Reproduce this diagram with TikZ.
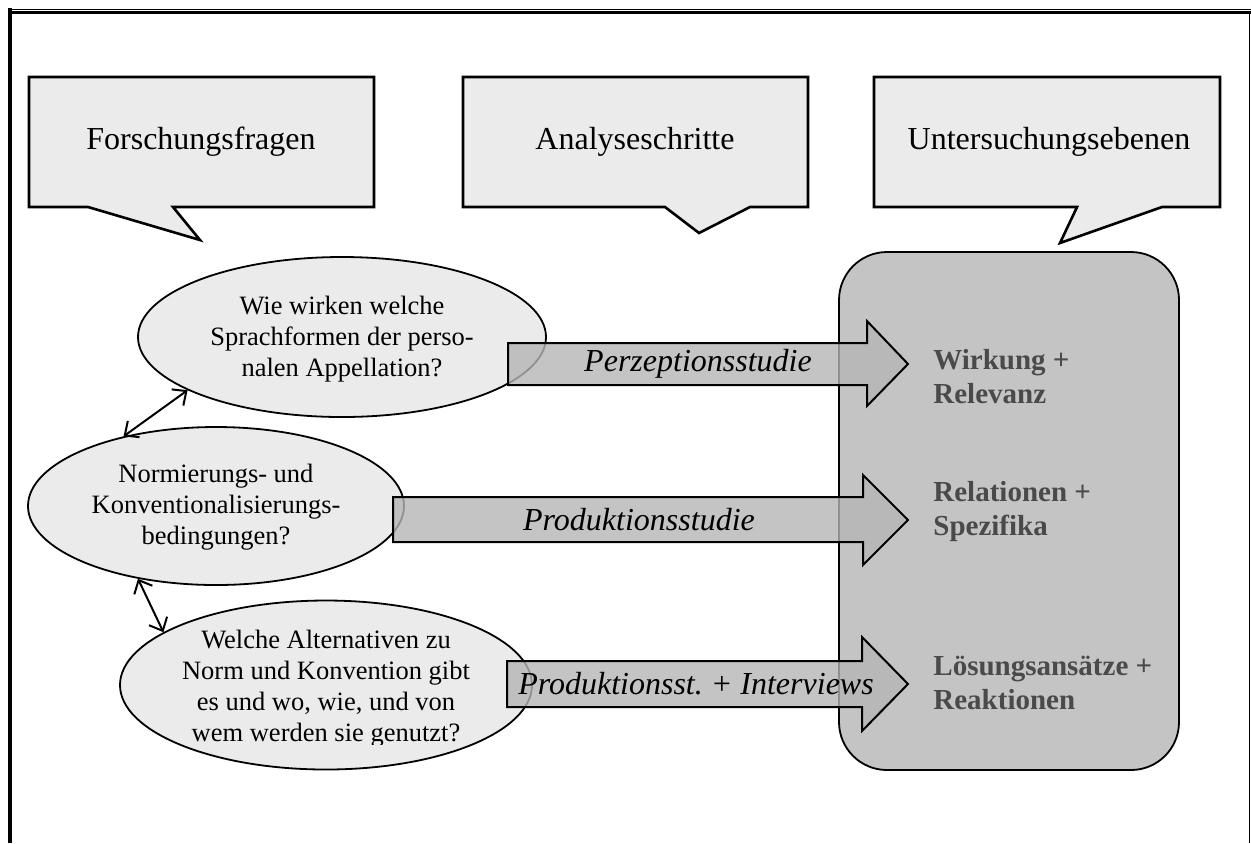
\documentclass[tikz,border=0pt]{standalone}
\usepackage{fontspec}
\setmainfont{Liberation Serif}
\usetikzlibrary{shapes.geometric,arrows.meta}
\definecolor{calloutfill}{HTML}{EBEBEB}
\definecolor{boxfill}{HTML}{C4C4C4}
\definecolor{arrowfill}{HTML}{B5B5B5}
\definecolor{labelgray}{HTML}{4A4A4A}
\frenchspacing
\tikzset{
  callout/.style={draw=black,line width=1.3pt,fill=calloutfill,line join=miter},
  callouttext/.style={font=\fontsize{16}{19}\selectfont,inner sep=0pt},
  question/.style={ellipse,draw=black,line width=0.9pt,fill=calloutfill,inner sep=0pt},
  qtext/.style={align=center,font=\fontsize{13.25}{15.5}\selectfont,inner sep=0pt},
  blockarrow/.style={draw=black,line width=1pt,fill=arrowfill,fill opacity=0.8,line join=miter},
  arrowtext/.style={font=\fontsize{16}{19}\selectfont\itshape,inner sep=0pt},
  levelbox/.style={draw=black,line width=0.9pt,fill=boxfill,rounded corners=24pt,minimum width=170pt,minimum height=259pt,inner sep=0pt},
  leveltext/.style={align=left,anchor=west,text=labelgray,font=\fontsize{14.5}{17}\selectfont\bfseries,inner sep=0pt},
  link/.style={line width=1pt,{Straight Barb[length=5.5pt,width=10pt]}-{Straight Barb[length=5.5pt,width=10pt]}}
}
\begin{document}
\begin{tikzpicture}[x=0.5pt,y=-0.5pt]
\useasboundingbox (0,0) rectangle (1251,843);
% frame
\draw[line width=0.5pt] (8,9.5) -- (1251,9.5);
\draw[line width=1.3pt] (8,12.5) -- (1251,12.5);
\draw[line width=2pt] (10,8) -- (10,843);
\draw[line width=0.5pt] (1249.5,12) -- (1249.5,843);

% big box
\node[levelbox] (levels) at (1009,511) {};

% callouts
\draw[callout] (29,77) -- (374,77) -- (374,207) -- (173,207) -- (200,240) -- (88,207) -- (29,207) -- cycle;
\node[callouttext] (c1) at (201,142) {Forschungsfragen};
\draw[callout] (463,77) -- (808,77) -- (808,207) -- (750,207) -- (699,233) -- (665,207) -- (463,207) -- cycle;
\node[callouttext] (c2) at (635,142) {Analyseschritte};
\draw[callout] (874,77) -- (1220,77) -- (1220,207) -- (1162,207) -- (1060,243) -- (1077,207) -- (874,207) -- cycle;
\node[callouttext] (c3) at (1049,142) {Untersuchungsebenen};

% questions
\node[question,minimum width=204pt,minimum height=80pt] (e1) at (342,337) {};
\node[qtext] (e1text) at (342,339) {Wie wirken welche\\Sprachformen der perso-\\nalen Appellation?};
\node[question,minimum width=188pt,minimum height=79pt] (e2) at (216,506) {};
\node[qtext] (e2text) at (216,507) {Normierungs- und\\Konventionalisierungs-\\bedingungen?};
\node[question,minimum width=206pt,minimum height=84.5pt] (e3) at (326,685) {};
\begin{scope}
\clip (100,600) rectangle (560,744);
\node[qtext] (e3text) at (326,689) {Welche Alternativen zu\\Norm und Konvention gibt\\es und wo, wie, und von\\wem werden sie genutzt?};
\end{scope}

% links between questions
\draw[link] (e1.199) -- (e2.143);
\draw[link] (e2.223) -- (e3.162);

% block arrows
\draw[blockarrow] (508,343) -- (867,343) -- (867,321) -- (908,364) -- (867,406) -- (867,385) -- (508,385) -- cycle;
\draw[blockarrow] (393,497) -- (863,497) -- (863,475) -- (908,520) -- (863,565) -- (863,542) -- (393,542) -- cycle;
\draw[blockarrow] (507,661) -- (862,661) -- (862,637) -- (908,684) -- (862,731) -- (862,707) -- (507,707) -- cycle;
\node[arrowtext] (a1) at (698,364) {Perzeptionsstudie};
\node[arrowtext] (a2) at (639,520) {Produktionsstudie};
\node[arrowtext] (a3) at (696,684) {Produktionsst.\ + Interviews};

% level labels
\node[leveltext] (l1) at (933,377) {Wirkung +\\Relevanz};
\node[leveltext] (l2) at (933,512) {Relationen +\\Spezifika};
\node[leveltext] (l3) at (933,683) {Lösungsansätze +\\Reaktionen};
\end{tikzpicture}
\end{document}
